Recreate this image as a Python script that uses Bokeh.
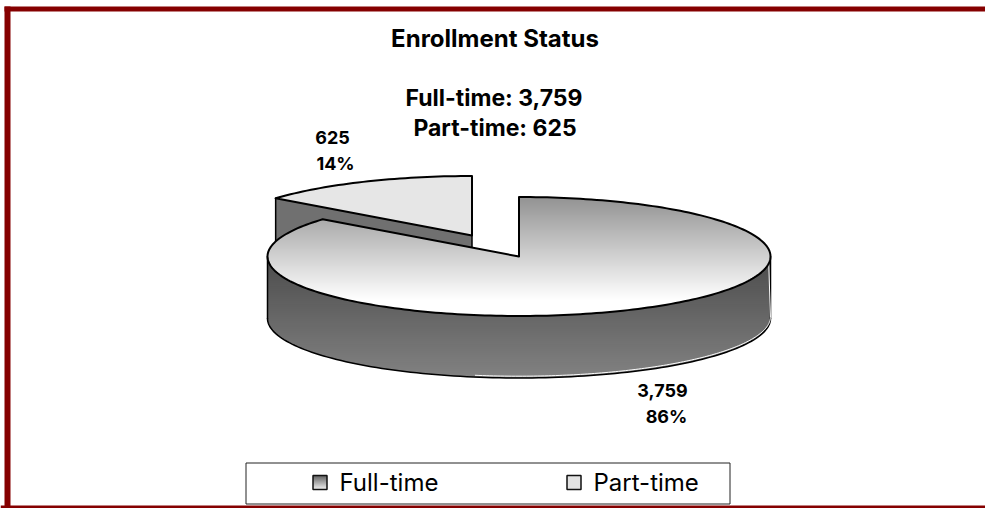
import math
from bokeh.plotting import figure
from bokeh.models import Range1d
from bokeh.embed import file_html
from bokeh.resources import INLINE
from bokeh.core.properties import value

title = "Enrollment Status"
categories = ["Full-time", "Part-time"]
values = [3759, 625]

W, H = 985, 508
p = figure(width=W, height=H, output_backend="svg", toolbar_location=None,
           x_range=Range1d(0, W), y_range=Range1d(H, 0), min_border=0,
           x_axis_type=None, y_axis_type=None, outline_line_color=None,
           background_fill_color="white", border_fill_color="white")
p.grid.visible = False
p.styles = {"position": "absolute", "left": "0px", "top": "0px"}

# projected-pie geometry
CX, CY, A, B, DEPTH = 518.5, 256.0, 251.5, 59.5, 62.0
EXPLODE = (-47.0, -21.0)
total = sum(values)
split = 360.0 * values[0] / total


def pt(t, cx=CX, cy=CY, dy=0.0):
    r = math.radians(t)
    return (cx + A * math.sin(r), cy - B * math.cos(r) + dy)


def arc(t0, t1, cx=CX, cy=CY, dy=0.0, n=120):
    return [pt(t0 + (t1 - t0) * i / n, cx, cy, dy) for i in range(n + 1)]


def clip(poly, y, keep_below):
    out = []
    inside = (lambda q: q[1] >= y) if keep_below else (lambda q: q[1] <= y)
    for i, c in enumerate(poly):
        d = poly[i - 1]
        if inside(c) != inside(d):
            f = (y - d[1]) / (c[1] - d[1])
            out.append((d[0] + f * (c[0] - d[0]), y))
        if inside(c):
            out.append(c)
    return out


def grey(v):
    v = int(round(max(0, min(255, v))))
    return f"#{v:02x}{v:02x}{v:02x}"


def gradient(poly, y0, y1, v0, v1, step=2):
    # bands overlap the next one and are painted downward, so no seams show through
    ys = [q[1] for q in poly]
    lo, hi = int(math.floor(min(ys))), int(math.ceil(max(ys)))
    xs_, ys_, cs_ = [], [], []
    for y in range(lo, hi, step):
        band = clip(clip(poly, y, True), y + step + 1.5, False)
        if len(band) >= 3:
            f = max(0, min(1, (y + step / 2 - y0) / (y1 - y0)))
            xs_.append([q[0] for q in band])
            ys_.append([q[1] for q in band])
            cs_.append(grey(v0 + (v1 - v0) * f))
    p.patches(xs_, ys_, fill_color=cs_, line_color=None)


def poly_line(pts, color="black", width=2.0):
    p.line([q[0] for q in pts], [q[1] for q in pts], line_color=color,
           line_width=width, line_join="round", line_cap="round")


# --- exploded slice (drawn first, sits behind) ---
ex, ey = CX + EXPLODE[0], CY + EXPLODE[1]
edge = pt(split, ex, ey)
wall = [(ex, ey), edge, (edge[0], edge[1] + DEPTH), (ex, ey + DEPTH)]
p.patch([q[0] for q in wall], [q[1] for q in wall], fill_color="#707070", line_color=None)
poly_line([edge, (edge[0], edge[1] + DEPTH)], width=1.5)
poly_line([(ex, ey), (ex, ey + DEPTH)], width=1.5)
top2 = [(ex, ey)] + arc(split, 360.0, ex, ey, n=40)
p.patch([q[0] for q in top2], [q[1] for q in top2], fill_color="#e6e6e6",
        line_color="black", line_width=2, line_join="round")

# --- main slice: front wall ---
front_top = arc(90.0, 270.0)
front_bot = arc(90.0, 270.0, dy=DEPTH)
gradient(front_top + front_bot[::-1], CY + 10, CY + B + DEPTH, 0x50, 0x82)
poly_line([front_top[0], front_bot[0]], width=1.5)
poly_line([front_top[-1], front_bot[-1]], width=1.5)
poly_line(front_bot, width=1.5)
white_arc = arc(90.0, 190.0, dy=DEPTH - 1.8)
poly_line([(front_top[0][0] - 1.8, front_top[0][1] + 6)] + white_arc[1:], color="white", width=1.0)

# --- main slice: top face ---
top1 = [(CX, CY)] + arc(0.0, split, n=240)
gradient(top1, CY - B, CY + B - 16, 0x92, 0xff)
poly_line(top1 + [(CX, CY)], width=2.0)

# --- frame ---
RED = "#850000"
p.quad(left=[4], right=[W], top=[6], bottom=[11], fill_color=RED, line_color=None)
p.quad(left=[4], right=[10], top=[6], bottom=[H], fill_color=RED, line_color=None)
p.quad(left=[0], right=[W], top=[505], bottom=[H], fill_color=RED, line_color=None)

# --- legend ---
p.quad(left=[245.5], right=[729.5], top=[462.5], bottom=[503.5], fill_color="white",
       line_color="#222222", line_width=1)
sw_x = [312.5, 566.5]
sw_size = 14.0
full_sw = [(sw_x[0], 475.0), (sw_x[0] + sw_size, 475.0), (sw_x[0] + sw_size, 489.0), (sw_x[0], 489.0)]
gradient(full_sw, 475, 489, 0x60, 0xf2, step=1)
p.quad(left=[sw_x[0]], right=[sw_x[0] + sw_size], top=[475], bottom=[489], fill_color=None,
       line_color="#111111", line_width=1.5)
p.quad(left=[sw_x[1]], right=[sw_x[1] + sw_size], top=[475], bottom=[489], fill_color="#e2e2e2",
       line_color="#111111", line_width=1.5)


def text(x, y, s, size, bold=True, align="center"):
    p.text([x], [y], text=[s], text_font=value("Inter"), text_font_size=f"{size}px",
           text_font_style="bold" if bold else "normal", text_color="black",
           text_align=align, text_baseline="middle")


text(494.5, 38, title, 24)
text(493.5, 97, f"{categories[0]}: {values[0]:,}", 23)
text(494.5, 127, f"{categories[1]}: {values[1]:,}", 23)
text(332, 137, f"{values[1]:,}", 18)
text(335, 163, f"{round(100 * values[1] / total)}%", 18)
text(662, 390, f"{values[0]:,}", 18)
text(666, 416, f"{round(100 * values[0] / total)}%", 18)
text(339, 482, categories[0], 24, bold=False, align="left")
text(593, 482, categories[1], 24, bold=False, align="left")

open("out.html", "w").write(file_html(p, INLINE))
